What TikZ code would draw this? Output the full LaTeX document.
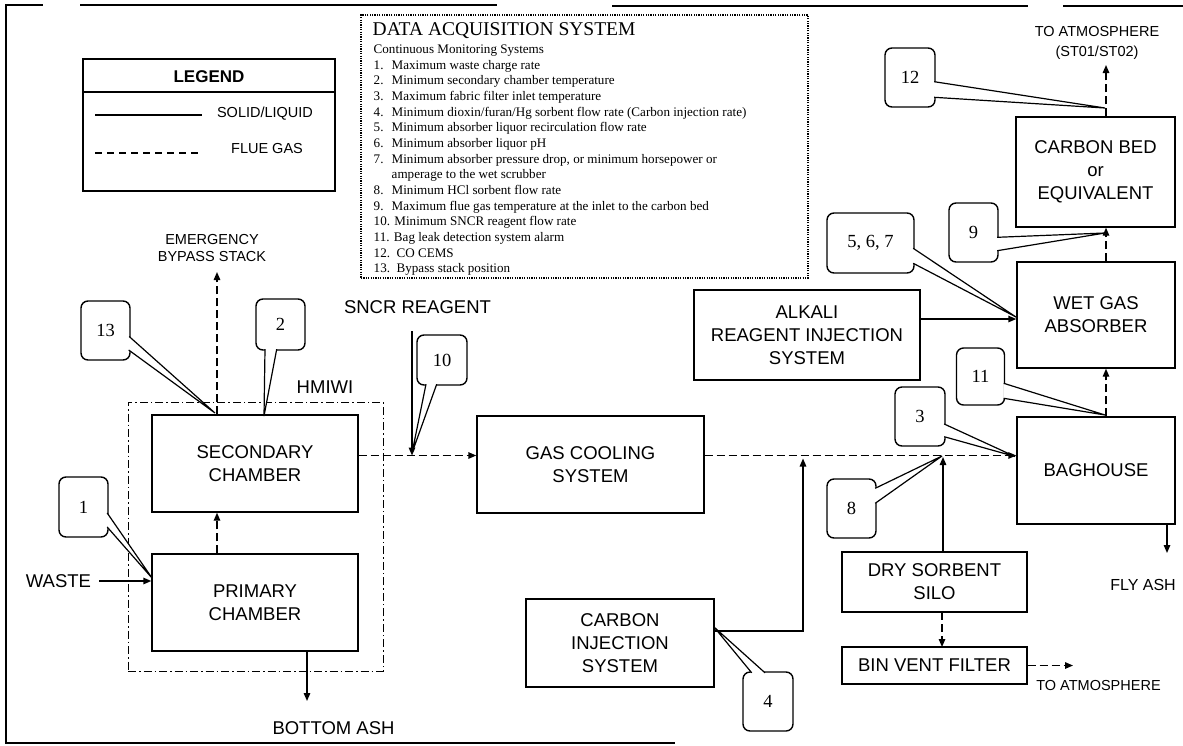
\documentclass[tikz,border=0pt]{standalone}
\usepackage{fontspec}
\setmainfont{Liberation Sans}
\newfontfamily\serifff{Liberation Serif}
\usetikzlibrary{arrows.meta,calc}
\begin{document}
\begin{tikzpicture}[x=1pt,y=-1pt,line width=1.4pt,
  box/.style={draw,rectangle,inner sep=0pt,align=center,font=\fontsize{18.5}{23}\selectfont},
  call/.style={draw,rectangle,rounded corners=7pt,inner sep=0pt,font=\serifff\fontsize{18.5}{22}\selectfont},
  wedge/.style={fill=white,line width=1.2pt},
  gas/.style={dash pattern=on 8pt off 4pt},
  arr/.style={-{Triangle[length=8pt,width=6.5pt]}},
  lbl/.style={inner sep=0pt,align=center,font=\fontsize{18.5}{23}\selectfont},
  slbl/.style={inner sep=0pt,align=center,font=\fontsize{14.5}{19}\selectfont},
  das/.style={inner sep=0pt,anchor=base west,font=\serifff\fontsize{13.1}{15}\selectfont}]
\useasboundingbox (0,0) rectangle (1183,745);
% outer frame (scanned, broken)
\draw (5,5) -- (43,5);
\draw (80,5) -- (497,5);
\draw (612,6) -- (1028,6);
\draw (1063,6) -- (1183,6);
\draw (6,5) -- (6,743) -- (675,743);

% legend
\node[draw,rectangle,minimum width=252pt,minimum height=132pt,inner sep=0pt] (leg) at (209,125) {};
\draw (leg.west |- 0,92) -- (leg.east |- 0,92);
\node[inner sep=0pt,font=\bfseries\fontsize{17}{20}\selectfont] (legt) at (209,77) {LEGEND};
\coordinate (ls1) at (95,115); \coordinate (ls2) at (202,115);
\draw (ls1) -- (ls2);
\node[slbl] (lsl) at (265,114) {SOLID/LIQUID};
\coordinate (lg1) at (95,153); \coordinate (lg2) at (200,153);
\draw[dash pattern=on 7pt off 5pt] (lg1) -- (lg2);
\node[slbl] (lgl) at (267,149) {FLUE GAS};

% data acquisition system
\node[draw,rectangle,minimum width=447pt,minimum height=263pt,inner sep=0pt,line width=1.7pt,dash pattern=on 1.2pt off 1.2pt] (dasb) at (584.5,146.5) {};
\node[das,font=\serifff\fontsize{19.5}{22}\selectfont] (dt) at (372,35.7) {DATA ACQUISITION SYSTEM};
\node[das] (d0) at (373,53) {Continuous Monitoring Systems};
\node[das] (d1) at (373,69) {\makebox[18pt][l]{1.}Maximum waste charge rate};
\node[das] (d2) at (373,84.7) {\makebox[18pt][l]{2.}Minimum secondary chamber temperature};
\node[das] (d3) at (373,100.3) {\makebox[18pt][l]{3.}Maximum fabric filter inlet temperature};
\node[das] (d4) at (373,116) {\makebox[18pt][l]{4.}Minimum dioxin/furan/Hg sorbent flow rate (Carbon injection rate)};
\node[das] (d5) at (373,131.7) {\makebox[18pt][l]{5.}Minimum absorber liquor recirculation flow rate};
\node[das] (d6) at (373,147.4) {\makebox[18pt][l]{6.}Minimum absorber liquor pH};
\node[das] (d7) at (373,163) {\makebox[18pt][l]{7.}Minimum absorber pressure drop, or minimum horsepower or};
\node[das] (d7b) at (373,178.7) {\makebox[18pt][l]{}amperage to the wet scrubber};
\node[das] (d8) at (373,194.4) {\makebox[18pt][l]{8.}Minimum HCl sorbent flow rate};
\node[das] (d9) at (373,210) {\makebox[18pt][l]{9.}Maximum flue gas temperature at the inlet to the carbon bed};
\node[das] (d10) at (373,225.7) {10. Minimum SNCR reagent flow rate};
\node[das] (d11) at (373,241.4) {11. Bag leak detection system alarm};
\node[das] (d12) at (373,257) {12.\ \ CO CEMS};
\node[das] (d13) at (373,272.7) {13.\ \ Bypass stack position};

% HMIWI enclosure
\node[draw,rectangle,minimum width=255pt,minimum height=269pt,inner sep=0pt,line width=1pt,dash pattern=on 8pt off 3pt on 1.5pt off 3pt] (hm) at (255.5,536.5) {};
\node[lbl] (hml) at (325,387) {HMIWI};

% process boxes
\node[box,minimum width=206pt,minimum height=97pt] (sec) at (255,463.5) {SECONDARY\\CHAMBER};
\node[box,minimum width=206pt,minimum height=97pt] (pri) at (255,602.5) {PRIMARY\\CHAMBER};
\node[box,minimum width=227pt,minimum height=97pt] (gcs) at (590.5,464.5) {GAS COOLING\\SYSTEM};
\node[box,minimum width=188pt,minimum height=88pt] (cis) at (620,643) {CARBON\\INJECTION\\SYSTEM};
\node[box,minimum width=226pt,minimum height=90pt] (alk) at (807,335) {ALKALI\\REAGENT INJECTION\\SYSTEM};
\node[box,minimum width=158pt,minimum height=106pt] (wga) at (1096,315) {WET GAS\\ABSORBER};
\node[box,minimum width=159pt,minimum height=110pt] (cbe) at (1095.5,172) {CARBON BED\\or\\EQUIVALENT};
\node[box,minimum width=158pt,minimum height=107pt] (bag) at (1096,470.5) {BAGHOUSE};
\node[box,minimum width=185pt,minimum height=60pt] (dss) at (934.5,582) {DRY SORBENT\\SILO};
\node[box,minimum width=185pt,minimum height=37pt] (bvf) at (934.5,665.5) {BIN VENT FILTER};

% labels
\node[slbl,font=\fontsize{14.5}{17}\selectfont] (ebs) at (212,248.5) {EMERGENCY\\BYPASS STACK};
\node[lbl] (sncr) at (417.5,307) {SNCR REAGENT};
\node[lbl] (waste) at (58.5,581) {WASTE};
\node[lbl] (bash) at (333.5,728) {BOTTOM ASH};
\node[slbl,font=\fontsize{14.5}{20}\selectfont] (atm1) at (1097,43.3) {TO ATMOSPHERE\\(ST01/ST02)};
\node[slbl,font=\fontsize{16}{19}\selectfont] (fly) at (1143,585) {FLY ASH};
\node[slbl] (atm2) at (1098.5,685) {TO ATMOSPHERE};

% coordinates
\coordinate (ebsT) at (217,272);
\coordinate (j10) at (412,455.5);
\coordinate (sncrT) at (412,331);
\coordinate (ciJ) at (803,455.5);
\coordinate (dsJ) at (943,455.5);
\coordinate (wasteS) at (99,581);
\coordinate (bashT) at (307,701);
\coordinate (flyT) at (1167,553);
\coordinate (atm1T) at (1106,65);
\coordinate (atm2T) at (1073,665.5);

% connectors
\draw[gas,arr] (ebsT |- sec.north) -- (ebsT);
\draw[gas,arr] (ebsT |- pri.north) -- (ebsT |- sec.south);
\draw[arr] (bashT |- pri.south) -- (bashT);
\draw[arr] (wasteS) -- (wasteS -| pri.west);
\draw[gas,arr] (sec.east |- j10) -- (gcs.west |- j10);
\draw[arr] (sncrT) -- (j10);
\draw[gas,arr] (gcs.east |- j10) -- (bag.west |- j10);
\draw[arr] (cis.east |- 0,631) -| ($(ciJ)+(0,3)$);
\draw[arr] (dsJ |- dss.north) -- ($(dsJ)+(0,1.5)$);
\draw[gas,arr] (942,612) -- (942,647);
\draw[gas,arr] (bvf.east) -- (atm2T);
\draw[arr] (flyT |- bag.south) -- (flyT);
\draw[gas,arr] (atm1T |- bag.north) -- (atm1T |- wga.south);
\draw[gas,arr] (atm1T |- wga.north) -- (atm1T |- cbe.south);
\draw[gas,arr] (atm1T |- cbe.north) -- (atm1T);
\draw[arr] (alk.east |- 0,319) -- (wga.west |- 0,319);

% callouts
\node[call,minimum width=49pt,minimum height=60pt] (c1) at (83.5,507) {1};
\node[call,minimum width=49pt,minimum height=59pt] (c13) at (105.5,330.5) {13};
\node[call,minimum width=49pt,minimum height=51pt] (c2) at (280.5,324.5) {2};
\node[call,minimum width=50pt,minimum height=50pt] (c10) at (442,360) {10};
\node[call,minimum width=50pt,minimum height=59pt] (c4) at (768,701.5) {4};
\node[call,minimum width=49pt,minimum height=59pt] (c8) at (851.5,508.5) {8};
\node[call,minimum width=50pt,minimum height=59pt] (c3) at (920,416.5) {3};
\node[call,minimum width=48pt,minimum height=57pt] (c11) at (980.5,376.5) {11};
\node[call,minimum width=49pt,minimum height=59pt] (c9) at (973.5,232.5) {9};
\node[call,minimum width=87pt,minimum height=60pt] (c567) at (870.5,243) {5, 6, 7};
\node[call,minimum width=50pt,minimum height=59pt] (c12) at (910,77.5) {12};

\coordinate (t1) at (152,578);
\coordinate (t13) at (215,413);
\coordinate (t2) at (264,416);
\coordinate (t10) at (412,453);
\coordinate (t4) at (714,627);
\coordinate (t8) at (942,456);
\coordinate (t3) at (1015,456.5);
\coordinate (t11) at (1105,415);
\coordinate (t9) at (1105,233);
\coordinate (t567) at (1016,317);
\coordinate (t12) at (1105,108);

\draw[wedge] ($(c1.east)+(-1.5,6)$) -- (t1) -- ($(c1.east)+(-1.5,20)$);
\draw[wedge] ($(c13.east)+(-1.5,6)$) -- (t13) -- ($(c13.east)+(-2,19.5)$);
\draw[wedge] ($(c2.south)+(-15.5,-1.5)$) -- (t2) -- ($(c2.south)+(-3.8,-1.5)$);
\draw[wedge] ($(c10.south)+(-16,-1.5)$) -- (t10) -- ($(c10.south)+(-5.3,-1.5)$);
\draw[wedge] ($(c4.north)+(-16.3,1.5)$) -- (t4) -- ($(c4.north)+(-3,1.5)$);
\draw[wedge] ($(c8.east)+(-1.5,-20.2)$) -- (t8) -- ($(c8.east)+(-1.5,-5.2)$);
\draw[wedge] ($(c3.east)+(-1.5,7.5)$) -- (t3) -- ($(c3.east)+(-1.5,20.2)$);
\draw[wedge] ($(c11.east)+(-1.5,6.8)$) -- (t11) -- ($(c11.east)+(-1.5,21.8)$);
\draw[wedge] ($(c9.east)+(-1.5,4.8)$) -- (t9) -- ($(c9.east)+(-1.5,18.2)$);
\draw[wedge] ($(c567.east)+(-1.5,5.3)$) -- (t567) -- ($(c567.east)+(-1.5,20.3)$);
\draw[wedge] ($(c12.east)+(-1.5,4.2)$) -- (t12) -- ($(c12.east)+(-1.5,19.8)$);
\end{tikzpicture}
\end{document}
